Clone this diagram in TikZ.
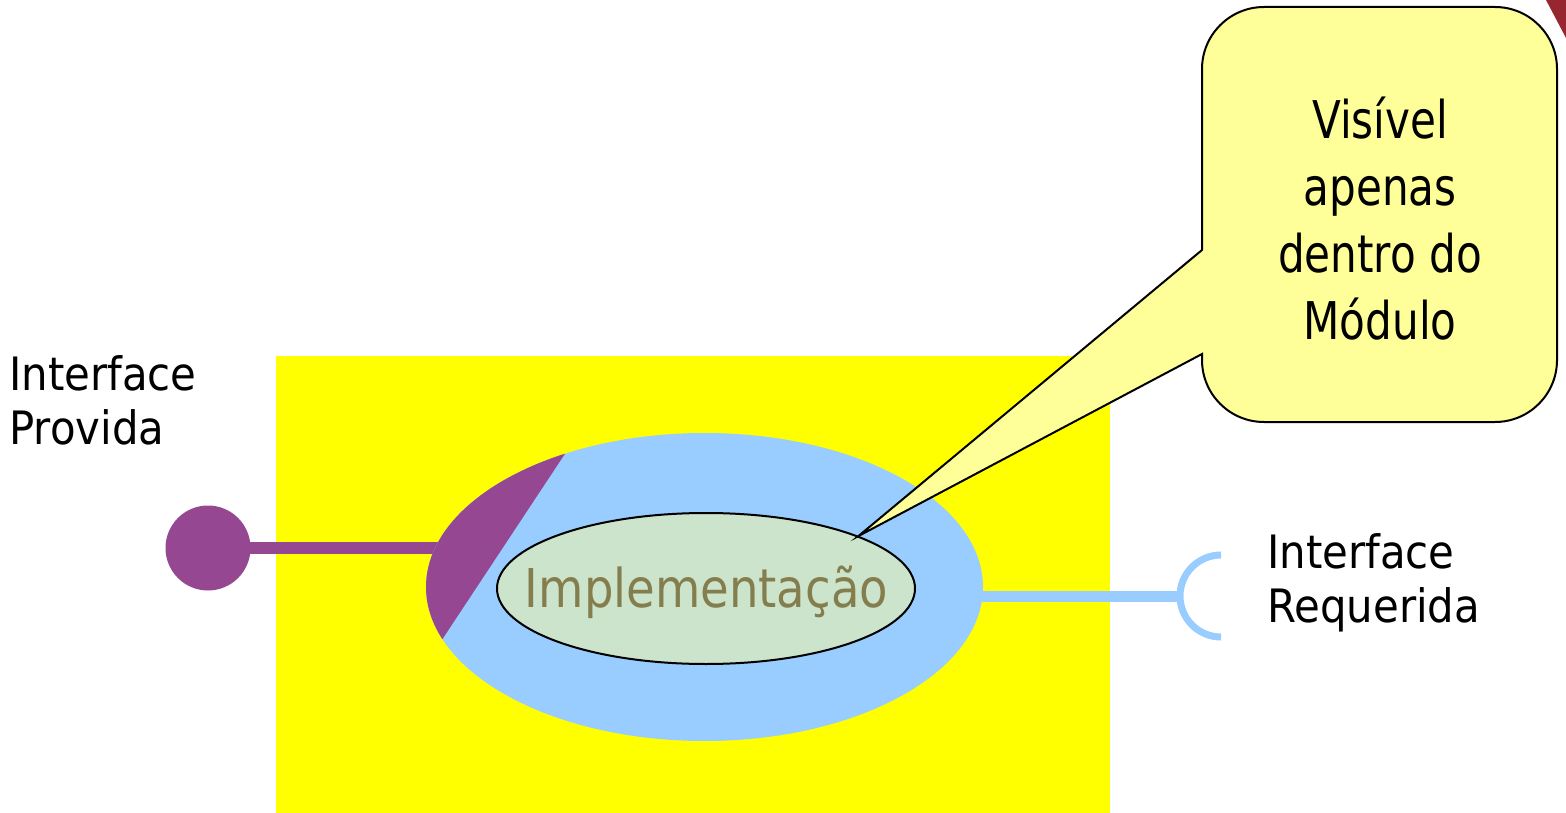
\documentclass[tikz,border=0pt]{standalone}
\usepackage{fontspec}
\setmainfont{DejaVu Sans}[FakeStretch=0.87]
\newfontfamily\sidefont{DejaVu Sans}[FakeStretch=0.91]
\newfontfamily\notefont{DejaVu Sans}[FakeStretch=0.81]
\usetikzlibrary{shapes.geometric}

\definecolor{modyellow}{RGB}{255,255,0}
\definecolor{implblue}{RGB}{153,204,255}
\definecolor{provpurple}{RGB}{149,72,145}
\definecolor{implgreen}{RGB}{204,228,204}
\definecolor{impltext}{RGB}{132,126,78}
\definecolor{notefill}{RGB}{255,255,153}
\definecolor{cornerred}{RGB}{150,38,48}

\pgfdeclarelayer{base}
\pgfdeclarelayer{wires}
\pgfsetlayers{base,wires,main}

\begin{document}
\begin{tikzpicture}[x=1pt,y=-1pt,
  sidelabel/.style={anchor=base west, inner sep=0pt, font=\sidefont\fontsize{46}{54}\selectfont},
  notetext/.style={anchor=base, inner sep=0pt, font=\notefont\fontsize{52}{67}\selectfont},
  implfont/.style={anchor=base, inner sep=0pt, text=impltext, font=\fontsize{53.5}{64}\selectfont},
  provwire/.style={line width=12pt, provpurple},
  reqwire/.style={line width=11pt, implblue},
  socket/.style={line width=7pt, implblue},
  outline/.style={draw=black, line width=2pt}
]
\useasboundingbox (0,0) rectangle (1566,813);

% slide decoration in the corner
\fill[cornerred] (1546,0) -- (1566,0) -- (1566,38) -- cycle;

% the module
\begin{pgfonlayer}{base}
  \node[fill=modyellow, inner sep=0pt, minimum width=834pt, minimum height=457pt,
        anchor=north west] (module) at (276,356) {};
\end{pgfonlayer}

% provided interface (ball) and required interface (socket)
\node[circle, fill=provpurple, minimum size=85pt, inner sep=0pt] (prov) at (208,548) {};
\coordinate (sock) at (1180,596);

% module body
\node[ellipse, fill=implblue, minimum width=557pt, minimum height=308pt, inner sep=0pt]
  (body) at (704.5,587) {};

\begin{pgfonlayer}{wires}
  \draw[provwire] (prov.center) -- (prov.center -| body.center);
  \draw[reqwire] (sock) -- (sock -| body.center);
\end{pgfonlayer}
\draw[socket] ([xshift=41pt,yshift=41pt]sock) arc[start angle=90, end angle=270, radius=41pt];

% exported part of the body
\begin{scope}
  \clip (body.center) ellipse[x radius=278.5pt, y radius=154pt];
  \fill[provpurple] (625,363) -- (379,735) -- (300,735) -- (300,363) -- cycle;
\end{scope}

% implementation
\node[ellipse, outline, fill=implgreen, minimum width=418pt, minimum height=151pt, inner sep=0pt]
  (impl) at (706,588.5) {};
\node[implfont] (impltxt) at (706.5,607) {Implementação};

% callout
\path[outline, fill=notefill, line join=miter]
  (1202,354) -- (impl.19) -- (1202,250) -- (1202,69)
  arc[start angle=180, end angle=90, radius=62pt] -- (1495,7)
  arc[start angle=90, end angle=0, radius=62pt] -- (1557,360)
  arc[start angle=0, end angle=-90, radius=62pt] -- (1264,422)
  arc[start angle=-90, end angle=-180, radius=62pt] -- cycle;
\node[notetext] (note) at (1380,139)
  {\begin{tabular}[t]{@{}c@{}}Visível\\apenas\\dentro do\\Módulo\end{tabular}};

% labels
\node[sidelabel] (provtxt) at (9,390)
  {\begin{tabular}[t]{@{}l@{}}Interface\\Provida\end{tabular}};
\node[sidelabel] (reqtxt) at (1267,568)
  {\begin{tabular}[t]{@{}l@{}}Interface\\Requerida\end{tabular}};
\end{tikzpicture}
\end{document}
